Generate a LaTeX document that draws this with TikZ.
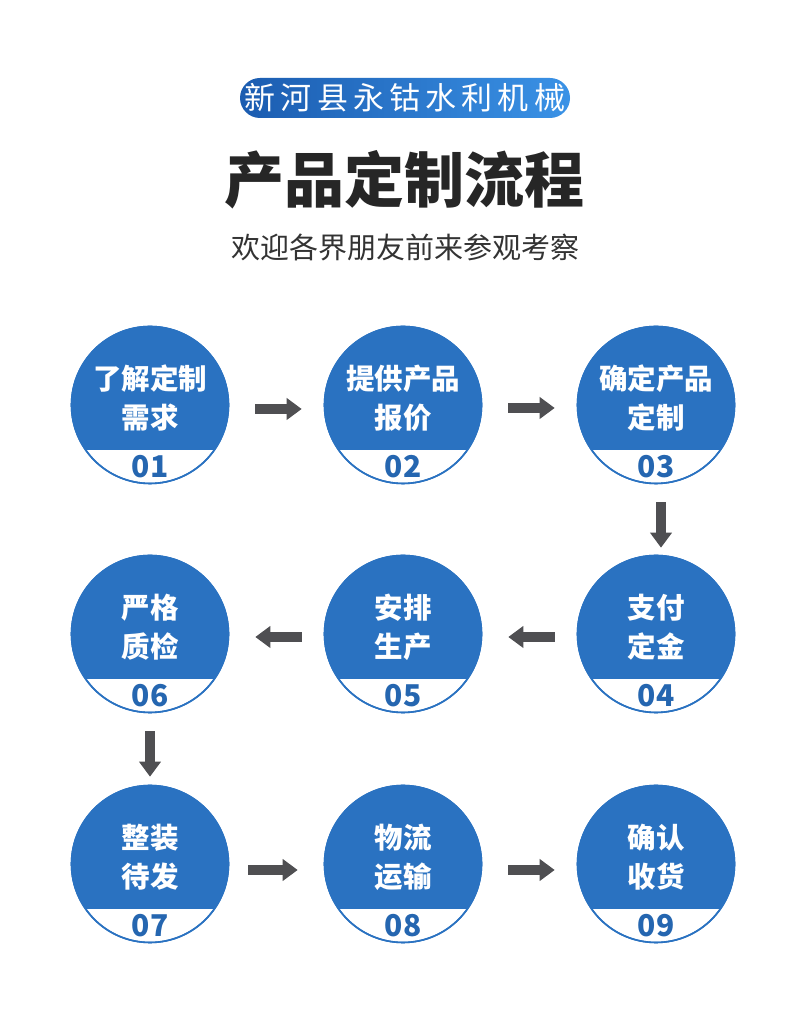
\documentclass[tikz,border=0pt]{standalone}
\usepackage{fontspec}
\setmainfont{Noto Sans CJK SC}
\usetikzlibrary{arrows.meta,calc}
\definecolor{cblue}{HTML}{2A72C1}
\definecolor{nblue}{HTML}{2566B0}
\definecolor{agray}{HTML}{4F4F52}
\definecolor{bdark}{HTML}{1B5CB0}
\definecolor{blight}{HTML}{3A92E6}
\tikzset{
  circ/.style={circle, minimum size=157pt, inner sep=0pt, draw=cblue, line width=1.6pt},
  ctext/.style={text=white, font=\fontsize{28.5}{28.5}\selectfont\bfseries, inner sep=0pt},
  ntext/.style={text=nblue, font=\fontsize{30}{30}\selectfont\bfseries, inner sep=0pt},
  arr/.style={draw=agray, line width=10pt, -{Triangle[length=15pt 0 0,width=21pt 0 0]}}
}
\newcommand\flowcirc[5]{%
  \node[circ] (#1) at (#2) {};
  \begin{scope}
    \clip (#1.center) circle (78.5pt);
    \fill[cblue] ($(#1.center)+(-80pt,-45pt)$) rectangle ($(#1.center)+(80pt,80pt)$);
  \end{scope}
  \node[circ, fill=none] at (#1.center) {};
  \node[ctext] (#1l1) at ($(#1.center)+(0,26pt)$) {#3};
  \node[ctext] (#1l2) at ($(#1.center)+(0,-13pt)$) {#4};
  \node[ntext] (#1n) at ($(#1.center)+(0,-62pt)$) {#5};
}
\begin{document}
\begin{tikzpicture}[x=1pt,y=1pt]
\useasboundingbox[fill=white] (0,0) rectangle (808,1022);
% badge
\node[rounded corners=20pt, minimum width=330pt, minimum height=40pt, inner sep=0pt,
      left color=bdark, right color=blight, draw=none] (badge) at (405,924) {};
\node[text=white, font=\fontsize{31}{31}\selectfont, inner sep=0pt] (badget) at (badge.center) {新\,河\,县\,永\,钴\,水\,利\,机\,械};
% title
\node[text=black!85, font=\fontsize{60}{60}\selectfont\bfseries, inner sep=0pt] (title) at (404,842) {产品定制流程};
\node[text=black!80, font=\fontsize{29}{29}\selectfont, inner sep=0pt] (sub) at (405,775) {欢迎各界朋友前来参观考察};
% circles
\flowcirc{c1}{150,617}{了解定制}{需求}{01}
\flowcirc{c2}{403,617}{提供产品}{报价}{02}
\flowcirc{c3}{656,617}{确定产品}{定制}{03}
\flowcirc{c4}{656,388}{支付}{定金}{04}
\flowcirc{c5}{403,388}{安排}{生产}{05}
\flowcirc{c6}{150,388}{严格}{质检}{06}
\flowcirc{c7}{150,158}{整装}{待发}{07}
\flowcirc{c8}{403,158}{物流}{运输}{08}
\flowcirc{c9}{656,158}{确认}{收货}{09}
% arrows
\draw[arr, shorten <=26pt, shorten >=22pt] ([yshift=-4pt]c1.east) -- ([yshift=-4pt]c2.west);
\draw[arr, shorten <=26pt, shorten >=22pt] ([yshift=-3pt]c2.east) -- ([yshift=-3pt]c3.west);
\draw[arr, shorten <=18pt, shorten >=7pt] ([xshift=5pt]c3.south) -- ([xshift=5pt]c4.north);
\draw[arr, shorten <=22pt, shorten >=26pt] ([yshift=-3pt]c4.west) -- ([yshift=-3pt]c5.east);
\draw[arr, shorten <=22pt, shorten >=26pt] ([yshift=-3pt]c5.west) -- ([yshift=-3pt]c6.east);
\draw[arr, shorten <=18pt, shorten >=8pt] (c6.south) -- (c7.north);
\draw[arr, shorten <=19pt, shorten >=26pt] ([yshift=-6pt]c7.east) -- ([yshift=-6pt]c8.west);
\draw[arr, shorten <=26pt, shorten >=22pt] ([yshift=-6pt]c8.east) -- ([yshift=-6pt]c9.west);
\end{tikzpicture}
\end{document}
